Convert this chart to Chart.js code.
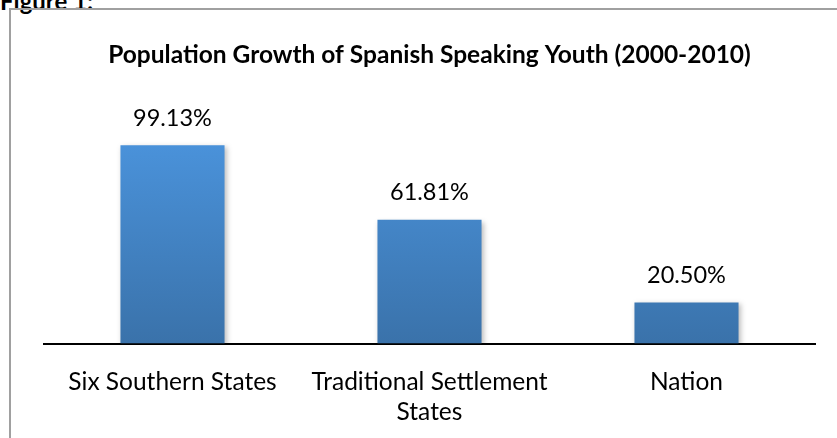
<!DOCTYPE html>
<html>
<head>
<meta charset="utf-8">
<script src="https://cdn.jsdelivr.net/npm/chart.js@4"></script>
<style>
  body { margin: 0; background: #fff; }
  #wrap { position: relative; width: 837px; height: 438px; overflow: hidden; }
  #frame { position: absolute; left: 9px; top: 8px; width: 900px; height: 500px;
           border-left: 2px solid #a0a0a0; border-top: 2px solid #a0a0a0; }
  #fig { position: absolute; left: 0; top: -14.5px; font: bold 24px Lato, sans-serif; color: #000; }
  canvas { position: absolute; left: 0; top: 0; }
</style>
</head>
<body>
<div id="wrap">
  <div id="fig">Figure 1:</div>
  <div id="frame"></div>
  <canvas id="chart" width="837" height="438"></canvas>
</div>
<script>
const categorias = [["Six Southern States"], ["Traditional Settlement", "States"], ["Nation"]];
const crecimiento = [99.13, 61.81, 20.50];
const titulo = "Population Growth of Spanish Speaking Youth (2000-2010)";

const fuente = "Lato, 'Open Sans', sans-serif";

// degradado de las barras
function degradado(context) {
  const area = context.chart.chartArea;
  if (!area) return '#4a8fd6';
  const g = context.chart.ctx.createLinearGradient(0, area.top + 40, 0, area.bottom);
  g.addColorStop(0, '#4a92da');
  g.addColorStop(1, '#3a72aa');
  return g;
}

// sombra suave de las barras
const sombra = {
  id: 'sombra',
  beforeDatasetsDraw(chart) {
    const ctx = chart.ctx;
    ctx.save();
    ctx.shadowColor = 'rgba(0,0,0,0.25)';
    ctx.shadowBlur = 5;
    ctx.shadowOffsetX = 2;
    ctx.shadowOffsetY = 2;
  },
  afterDatasetsDraw(chart) {
    chart.ctx.restore();
  }
};

// etiquetas de valor encima de cada barra
const etiquetas = {
  id: 'etiquetas',
  afterDatasetsDraw(chart) {
    const ctx = chart.ctx;
    ctx.save();
    ctx.font = "23.5px " + fuente;
    ctx.fillStyle = '#000';
    ctx.textAlign = 'center';
    ctx.textBaseline = 'middle';
    chart.getDatasetMeta(0).data.forEach((bar, i) => {
      ctx.fillText(crecimiento[i].toFixed(2) + '%', bar.x, bar.y - 27);
    });
    ctx.restore();
  }
};

new Chart(document.getElementById('chart'), {
  type: 'bar',
  data: {
    labels: categorias,
    datasets: [{
      data: crecimiento,
      backgroundColor: degradado,
      borderWidth: 0,
      barPercentage: 0.81,
      categoryPercentage: 0.5
    }]
  },
  options: {
    responsive: false,
    animation: false,
    layout: { padding: { left: 44, right: 22, top: 0, bottom: 0 } },
    plugins: {
      legend: { display: false },
      tooltip: { enabled: false },
      title: {
        display: true,
        text: titulo,
        color: '#000',
        font: { family: fuente, size: 24.5, weight: 'bold', lineHeight: 1.2 },
        padding: { top: 40, bottom: 34 }
      }
    },
    scales: {
      x: {
        grid: { display: false, drawTicks: false },
        border: { display: true, color: '#000', width: 2 },
        ticks: { color: '#000', padding: 24, font: { family: fuente, size: 24.5, lineHeight: 1.22 }, maxRotation: 0, autoSkip: false },
        afterFit(scale) { scale.height = 94.5; }
      },
      y: {
        display: false,
        min: 0,
        max: 120
      }
    }
  },
  plugins: [sombra, etiquetas]
});
</script>
</body>
</html>
